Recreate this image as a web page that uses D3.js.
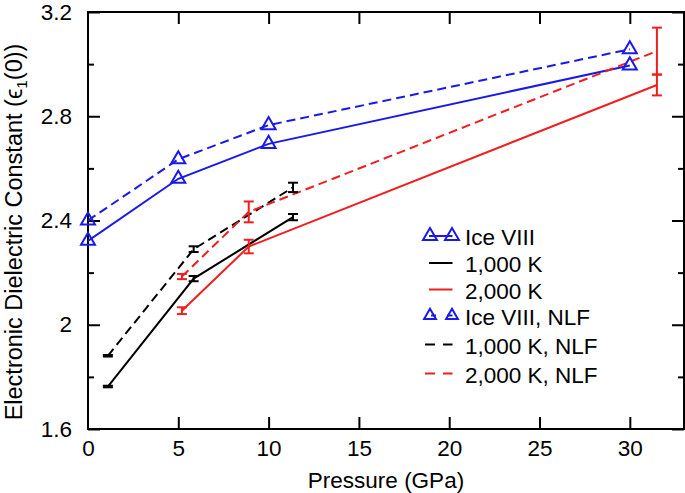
<!DOCTYPE html>
<html>
<head>
<meta charset="utf-8">
<script src="https://cdn.jsdelivr.net/npm/d3@7/dist/d3.min.js"></script>
<style>
html,body{margin:0;padding:0;background:#fff;}
svg{display:block;font-family:"Liberation Sans",Arial,Helvetica,sans-serif;}
</style>
</head>
<body>
<svg id="chart" width="685" height="493"></svg>
<script>
// ---- data ----
const xTicks = [0, 5, 10, 15, 20, 25, 30];
const yMajorTicks = [1.6, 2, 2.4, 2.8, 3.2];
const yMinorTicks = [1.8, 2.2, 2.6, 3.0];

const iceX = [0, 5, 10, 30];
const iceY = [2.322, 2.56, 2.694, 2.995];
const iceNlfY = [2.40, 2.635, 2.766, 3.057];

const k1000X = [1.1, 5.85, 11.35];
const k1000Y = [1.763, 2.177, 2.413];
const k1000Err = [0.003, 0.01, 0.012];
const k1000NlfY = [1.881, 2.29, 2.527];
const k1000NlfErr = [0.003, 0.011, 0.018];

const k2000X = [5.2, 8.9, 31.5];
const k2000Y = [2.054, 2.30, 2.92];
const k2000Err = [0.013, 0.026, 0.04];
const k2000NlfY = [2.185, 2.433, 3.05];
const k2000NlfErr = [0.01, 0.04, 0.09];

const legendLabels = ["Ice VIII", "1,000 K", "2,000 K", "Ice VIII, NLF", "1,000 K, NLF", "2,000 K, NLF"];

// ---- layout ----
const W = 685, H = 493;
const m = {left: 88, right: 684, top: 12, bottom: 429};
const BLUE = "#1a1ae6", RED = "#f01e1e", BLACK = "#000";
const FS = 22.5;

const svg = d3.select("#chart");
const x = d3.scaleLinear().domain([0, 33]).range([m.left, m.right]);
const y = d3.scaleLinear().domain([1.6, 3.2]).range([m.bottom, m.top]);

function styleAxis(g) {
  g.select(".domain").remove();
  g.selectAll(".tick line").attr("stroke", "#000").attr("stroke-width", 2);
  g.selectAll("text").attr("font-size", FS).attr("fill", "#000").attr("font-family", null);
}

// bottom
svg.append("g").attr("transform", `translate(0,${m.bottom})`)
  .call(d3.axisBottom(x).tickValues(xTicks.filter(d => d > 0)).tickSize(-12).tickPadding(11).tickFormat(d3.format("")))
  .call(styleAxis);
svg.append("g").attr("transform", `translate(0,${m.bottom})`)
  .call(d3.axisBottom(x).tickValues([0]).tickSize(0).tickPadding(11).tickFormat(d3.format("")))
  .call(styleAxis);
// top
svg.append("g").attr("transform", `translate(0,${m.top})`)
  .call(d3.axisTop(x).tickValues(xTicks.filter(d => d > 0)).tickSize(-12).tickFormat(""))
  .call(styleAxis);
// left
svg.append("g").attr("transform", `translate(${m.left},0)`)
  .call(d3.axisLeft(y).tickValues(yMajorTicks).tickSize(-12).tickPadding(16).tickFormat(d3.format("")))
  .call(styleAxis);
svg.append("g").attr("transform", `translate(${m.left},0)`)
  .call(d3.axisLeft(y).tickValues(yMinorTicks).tickSize(-6).tickFormat(""))
  .call(styleAxis);
// right
svg.append("g").attr("transform", `translate(${m.right},0)`)
  .call(d3.axisRight(y).tickValues(yMajorTicks).tickSize(-12).tickFormat(""))
  .call(styleAxis);
svg.append("g").attr("transform", `translate(${m.right},0)`)
  .call(d3.axisRight(y).tickValues(yMinorTicks).tickSize(-6).tickFormat(""))
  .call(styleAxis);

// frame
svg.append("rect").attr("x", m.left).attr("y", m.top)
  .attr("width", m.right - m.left).attr("height", m.bottom - m.top)
  .attr("fill", "none").attr("stroke", "#000").attr("stroke-width", 2);

// axis titles
svg.append("text").attr("x", (m.left + m.right) / 2).attr("y", 488)
  .attr("text-anchor", "middle").attr("font-size", FS).text("Pressure (GPa)");
const YFS = 23.5;
const yl = svg.append("text").attr("transform", `translate(22,232) rotate(-90)`)
  .attr("text-anchor", "middle").attr("font-size", YFS);
yl.append("tspan").text("Electronic Dielectric Constant (");
yl.append("tspan").text("\u03F5");
yl.append("tspan").attr("font-size", YFS * 0.65).attr("dy", 5).text("1");
yl.append("tspan").attr("dy", -5).text("(0))");

// ---- series ----
const line = d3.line().x(d => x(d[0])).y(d => y(d[1]));
const DASH = "9,5";

function drawSeries(xs, ys, color, dashed) {
  svg.append("path").datum(xs.map((v, i) => [v, ys[i]]))
    .attr("d", line).attr("fill", "none").attr("stroke", color).attr("stroke-width", 2)
    .attr("stroke-dasharray", dashed ? DASH : null);
}
function drawErr(xs, ys, es, color) {
  const g = svg.append("g").attr("stroke", color).attr("stroke-width", 2);
  xs.forEach((v, i) => {
    const cx = x(v), y0 = y(ys[i] - es[i]), y1 = y(ys[i] + es[i]);
    g.append("line").attr("x1", cx).attr("x2", cx).attr("y1", y0).attr("y2", y1);
    g.append("line").attr("x1", cx - 5).attr("x2", cx + 5).attr("y1", y0).attr("y2", y0);
    g.append("line").attr("x1", cx - 5).attr("x2", cx + 5).attr("y1", y1).attr("y2", y1);
  });
}
const tri = d3.symbol().type(d3.symbolTriangle).size(85);
const triSmall = d3.symbol().type(d3.symbolTriangle).size(60);
function drawTris(xs, ys, color) {
  svg.append("g").selectAll("path").data(xs.map((v, i) => [v, ys[i]])).join("path")
    .attr("d", tri).attr("transform", d => `translate(${x(d[0])},${y(d[1])})`)
    .attr("fill", "none").attr("stroke", color).attr("stroke-width", 2);
}

drawSeries(iceX, iceY, BLUE, false);
drawSeries(iceX, iceNlfY, BLUE, true);
drawSeries(k1000X, k1000Y, BLACK, false);
drawSeries(k1000X, k1000NlfY, BLACK, true);
drawSeries(k2000X, k2000Y, RED, false);
drawSeries(k2000X, k2000NlfY, RED, true);
drawErr(k1000X, k1000Y, k1000Err, BLACK);
drawErr(k1000X, k1000NlfY, k1000NlfErr, BLACK);
drawErr(k2000X, k2000Y, k2000Err, RED);
drawErr(k2000X, k2000NlfY, k2000NlfErr, RED);
drawTris(iceX, iceY, BLUE);
drawTris(iceX, iceNlfY, BLUE);

// ---- legend ----
const legBase = [245, 272, 298.5, 324.5, 353.5, 382.5];
const legColors = [BLUE, BLACK, RED, BLUE, BLACK, RED];
const legDash = [false, false, false, true, true, true];
const legTri = [true, false, false, true, false, false];
const ltx = 465;
const leg = svg.append("g");
legendLabels.forEach((lab, i) => {
  const ly = legBase[i] - 9;
  const x0 = legDash[i] ? 425 : 429, x1 = 452.5;
  leg.append("line").attr("x1", x0).attr("x2", x1).attr("y1", ly).attr("y2", ly)
    .attr("stroke", legColors[i]).attr("stroke-width", 2)
    .attr("stroke-dasharray", legDash[i] ? (legTri[i] ? "0,6,5,11,5" : "10,8") : null);
  if (legTri[i]) {
    [430, 452].forEach(px => leg.append("path").attr("d", legDash[i] ? triSmall : tri)
      .attr("transform", `translate(${px},${ly})`)
      .attr("fill", "none").attr("stroke", legColors[i]).attr("stroke-width", 2));
  }
  leg.append("text").attr("x", ltx).attr("y", legBase[i]).attr("font-size", FS).text(lab);
});
</script>
</body>
</html>
